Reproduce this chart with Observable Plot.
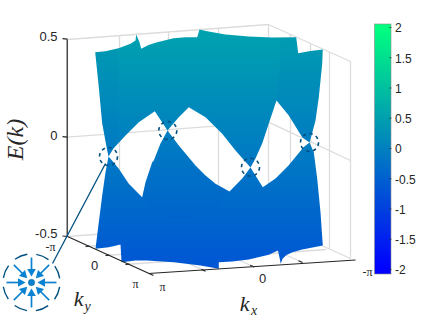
<!DOCTYPE html>
<html><head><meta charset="utf-8">
<script src="https://cdn.jsdelivr.net/npm/d3@7"></script>
<script src="https://cdn.jsdelivr.net/npm/@observablehq/plot@0.6"></script>
<style>html,body{margin:0;padding:0;background:#fff}svg{display:block}</style>
</head><body><div id="c"></div>
<script>
const outline = [[94.7,51.7],[105,50.7],[118,47.7],[130,43.3],[135,40],[135.7,34],[139,41.7],[140.7,48.3],[148,44.5],[156.7,41.7],[173,37.7],[185,36.8],[196.7,36.7],[199,29],[206.7,30.7],[225,34],[248.3,36],[271.7,37],[295.7,36.7],[297.7,52.7],[310,50.5],[322.3,49],[321.7,63.3],[320,80],[318.3,96.7],[315,120],[311,135],[309,142],[313.3,151.7],[316.7,178],[320,211.7],[322.3,245],[301.7,249],[292,251.7],[286,254.5],[282,258.3],[280.3,263.3],[277.5,250],[268.3,254.3],[248.3,259],[231.7,261],[218.3,261.7],[218.3,268.3],[200,265],[173.3,261.7],[146.7,260],[135,260],[121,261.7],[120,244],[108.3,246.7],[95,248.3],[98.3,221.7],[101.7,195],[105,171.7],[108,156],[106.7,150],[101.7,123],[98.3,86.7]];
const holeA = [[108,156],[113,148],[125,135],[138.3,121.7],[154.3,110.7],[167,130],[160,143],[153.3,160],[151.7,161.7],[145,181.7],[141.7,196.7],[128.3,183.3],[118.3,168.3],[113,161.7]];
const holeB = [[167,130],[178,117],[188.3,106.7],[205,116.7],[221.7,133.3],[235,150],[250,167],[241.7,178],[229,191],[215,183.3],[205,175],[195,165],[178.3,145]];
const holeC = [[250,167],[255,158],[261.7,143],[268.3,123],[276,100],[288.3,115],[301.7,136.7],[309,142],[303,146.7],[288,165],[275,178],[262.3,186.7]];
const lobeShade = [[141.7,196.7],[147,205],[155,212],[165,216],[178,218.5],[190,217],[205,212],[218,204],[229,191],[215,183.3],[205,175],[195,165],[178.3,145],[167,130],[160,143],[153.3,160],[145,181.7]];
const rightWingShade = [[280,37],[295.7,36.7],[297.7,52.7],[310,50.5],[322.3,49],[321.7,63.3],[320,80],[318.3,96.7],[315,120],[311,135],[309,142],[301.7,136.7],[288.3,115],[276,100],[279,70]];
const leftWingShade = [[94.7,51.7],[105,50.7],[118,47.7],[118,100],[118,135],[113,148],[108,156],[106.7,150],[101.7,123],[98.3,86.7]];
const zAxisTicks = [[0.5,38.7],[0,136.7],[-0.5,236]];
const colorbarTicks = [2,1.5,1,0.5,0,-0.5,-1,-1.5,-2];
const kyTicks = [[67,236],[85,246],[105,255],[125,264],[148,273]];
const kxTicks = [[148,273],[205,270.7],[253.7,266.5],[302,262],[350,258]];
const wallLeftX = [119,168,218];
const wallRightX = [290,310,329];
const crossings = [[108,156],[167.3,130],[250,166.7],[309,142]];
const textLabels = [["0.5",57,36],["0",57,135],["-0.5",57,233]];
const serifTicks = [["-π",50,247],["π",135,284],["π",162,287],["-π",367,272]];
const sansTicks = [["0",94,265],["0",262,278]];
const arrowAngles = [0,45,90,135,180,225,270,315];
const ink = "#262626", grid = "#dcdcdc", navy = "#00507f", arrowBlue = "#0a82d2";

const barY = E => 149 - 60.5*E;
const surfaceY = E => 137 - 197*E;
const strips = d3.range(24,274).map(y=>({E:(149-y-0.5)/60.5,y1:y,y2:y+1}));

function oriented(pts,positive){ const a=d3.polygonArea(pts); return (a>0)===positive?pts:pts.slice().reverse(); }
const surf = [];
surf.push(...oriented(outline,true),[NaN,NaN]);
for (const h of [holeA,holeB,holeC]) surf.push(...oriented(h,false),[NaN,NaN]);
const shades = [
  ...lobeShade.map(p=>[...p,"a"]),
  ...rightWingShade.map(p=>[...p,"b"]),
  ...leftWingShade.map(p=>[...p,"c"])
];

const A=[67,236],B=[148,273],C=[350,258],D=[268,221],Ap=[67,39],Dp=[268,24],Cp=[350,61];
const gridLinks=[
  [Ap,Dp],[Dp,Cp],[A,D],[D,C],[Ap,A],[Dp,D],[Cp,C],
  [[67,136.7],[268,121.7]],[[268,121.7],[350,160]],
  ...wallLeftX.map(x=>{const t=(x-67)/201;return [[x,39-15*t],[x,236-15*t]];}),
  ...wallRightX.map(x=>{const t=(x-268)/82;return [[x,24+37*t],[x,221+37*t]];}),
  ...kyTicks.slice(1,4).map(p=>[p,[p[0]+201,p[1]-15]]),
  ...kxTicks.slice(1,4).map(p=>[p,[p[0]-81,p[1]-37]])
];
const axisLinks=[[[66.7,39],[66.7,236]],[[67,236],[153,275]],[[148,273],[355,259.5]],
  ...zAxisTicks.map(t=>[[62,t[1]-0.5],[67,t[1]]]),
  ...kyTicks.slice(1,4).map(p=>[p,[p[0]+4,p[1]-0.3]]),
  ...kxTicks.slice(1,4).map(p=>[p,[p[0]-4,p[1]-1.8]])
];

const cx=31, cy=282;
const arrows=arrowAngles.map(a=>{const r=a*Math.PI/180;return {a,x1:cx+25*Math.cos(r),y1:cy-25*Math.sin(r),x2:cx+12*Math.cos(r),y2:cy-12*Math.sin(r),hx:cx+11*Math.cos(r),hy:cy-11*Math.sin(r)};});

const chart = Plot.plot({
  width:443,height:319,margin:0,
  x:{domain:[0,443],range:[0,443],axis:null},
  y:{domain:[0,319],range:[0,319],axis:null},
  color:{type:"linear",domain:[-2,2],range:["#0000ff","#00ff80"]},
  marks:[
    Plot.link(gridLinks,{x1:d=>d[0][0],y1:d=>d[0][1],x2:d=>d[1][0],y2:d=>d[1][1],stroke:grid,strokeWidth:1.3}),
    (index,{y,color})=>{
      const svgNS="http://www.w3.org/2000/svg";
      const defs=document.createElementNS(svgNS,"defs");
      const g=document.createElementNS(svgNS,"linearGradient");
      g.setAttribute("id","surf");g.setAttribute("gradientUnits","userSpaceOnUse");
      g.setAttribute("x1","0");g.setAttribute("x2","0");
      g.setAttribute("y1",y(surfaceY(0.65)));g.setAttribute("y2",y(surfaceY(-0.7)));
      for(const E of [0.65,0.3,0,-0.3,-0.7]){
        const s=document.createElementNS(svgNS,"stop");
        s.setAttribute("offset",(0.65-E)/1.35);s.setAttribute("stop-color",color(E));g.appendChild(s);
      }
      defs.appendChild(g);return defs;
    },
    Plot.line(surf,{x:d=>d[0],y:d=>d[1],fill:"url(#surf)",stroke:"none"}),
    Plot.line(shades,{x:d=>d[0],y:d=>d[1],z:d=>d[2],fill:"#0040e0",fillOpacity:0.035,stroke:"none"}),
    Plot.link(axisLinks,{x1:d=>d[0][0],y1:d=>d[0][1],x2:d=>d[1][0],y2:d=>d[1][1],stroke:ink,strokeWidth:1.2}),
    Plot.dot(crossings,{x:d=>d[0],y:d=>d[1],r:9,stroke:navy,strokeWidth:1.6,strokeDasharray:"3.5,3.5",fill:"none"}),
    Plot.link([[[52,263],[105,163]]],{x1:d=>d[0][0],y1:d=>d[0][1],x2:d=>d[1][0],y2:d=>d[1][1],stroke:navy,strokeWidth:1.3}),
    Plot.dot([[cx,cy]],{x:d=>d[0],y:d=>d[1],r:28.5,stroke:navy,strokeWidth:1.4,strokeDasharray:"13.4,9",strokeDashoffset:-4.5,fill:"none"}),
    Plot.dot([[cx,cy]],{x:d=>d[0],y:d=>d[1],r:3.2,fill:arrowBlue,stroke:navy,strokeWidth:0.4}),
    Plot.link(arrows,{x1:"x1",y1:"y1",x2:"x2",y2:"y2",stroke:arrowBlue,strokeWidth:1.7}),
    Plot.dot(arrows,{x:"hx",y:"hy",symbol:"triangle",r:3.2,fill:arrowBlue,rotate:d=>-90-d.a}),
    Plot.rect(strips,{x1:374.5,x2:391,y1:"y1",y2:"y2",fill:"E"}),
    Plot.rect([0],{x1:374.5,x2:391,y1:24,y2:274,stroke:"#8c8c8c",strokeWidth:0.6,fill:"none"}),
    Plot.link(colorbarTicks,{x1:388.5,x2:391,y1:d=>barY(d)-1,y2:d=>barY(d)-1,stroke:ink,strokeWidth:0.6}),
    Plot.text(colorbarTicks,{x:394.5,y:barY,text:d=>String(d),textAnchor:"start",fontFamily:"Liberation Sans",fontSize:12,fill:ink}),
    Plot.text(textLabels,{x:d=>d[1],y:d=>d[2],text:d=>d[0],textAnchor:"end",fontFamily:"Liberation Sans",fontSize:13,fill:ink}),
    Plot.text(serifTicks,{x:d=>d[1],y:d=>d[2],text:d=>d[0],fontFamily:"Liberation Serif",fontSize:12,fill:ink}),
    Plot.text(sansTicks,{x:d=>d[1],y:d=>d[2],text:d=>d[0],fontFamily:"Liberation Sans",fontSize:13,fill:ink}),
    Plot.text([["E(k)",15,139]],{x:d=>d[1],y:d=>d[2],text:d=>d[0],rotate:-90,fontFamily:"Liberation Serif",fontStyle:"italic",fontSize:24,fill:ink}),
    Plot.text([["k",244,303,22],["x",253.5,310,14],["k",78,298,22],["y",87,306,14]],{x:d=>d[1],y:d=>d[2],text:d=>d[0],fontSize:d=>d[3],fontFamily:"Liberation Serif",fontStyle:"italic",fill:ink})
  ]
});
document.getElementById("c").appendChild(chart);
</script></body></html>
